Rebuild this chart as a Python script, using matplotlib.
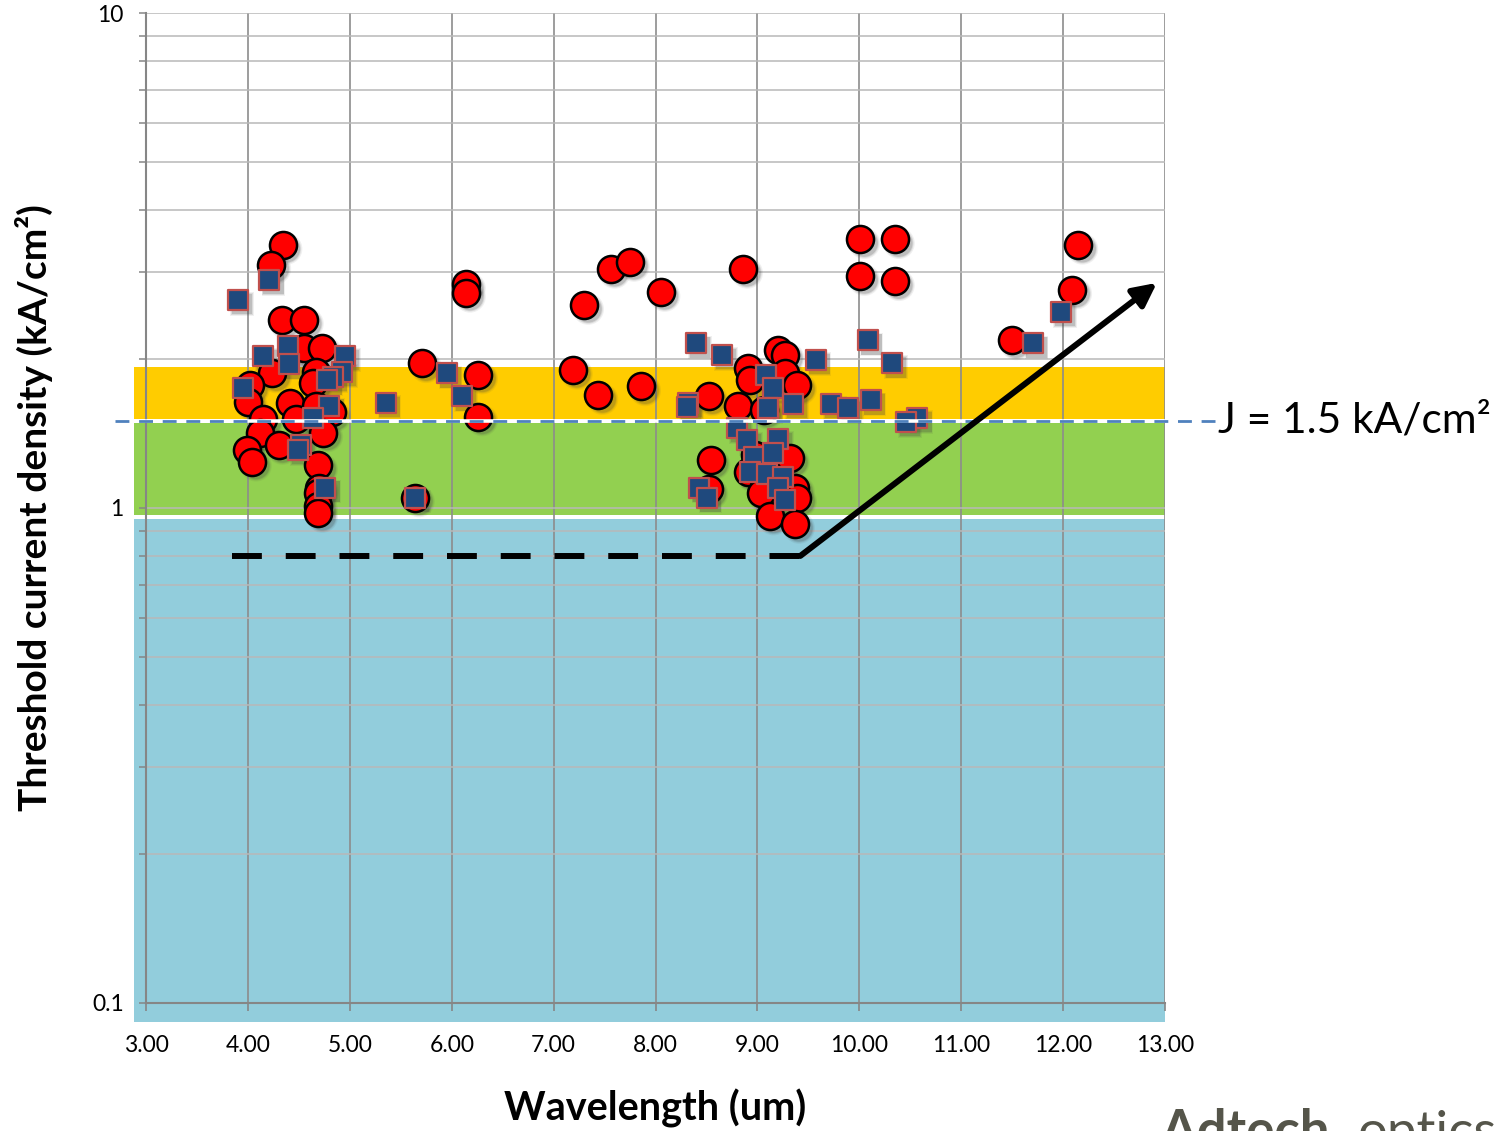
import matplotlib.pyplot as plt
from matplotlib.patches import Rectangle
from matplotlib.transforms import offset_copy
from matplotlib.ticker import FixedLocator, LogLocator, FuncFormatter, NullFormatter

plt.rcParams['font.family'] = ['Lato', 'DejaVu Sans']

# Red circles: wavelength (um) and threshold current density (kA/cm2)
circ_wl = [4.34, 4.23, 4.33, 4.55, 4.55, 4.73, 4.24, 4.67, 4.64, 4.02,
           4.00, 4.41, 4.67, 4.82, 4.15, 4.47, 4.12, 4.74, 4.30, 3.99,
           4.04, 4.69, 4.70, 4.69, 4.69, 4.69,
           5.71, 6.14, 6.14, 6.26, 6.26, 5.64, 7.30, 7.56, 7.75, 8.05,
           7.19, 7.44, 7.86,
           8.86, 9.20, 9.27, 8.91, 8.93, 9.27, 9.39, 8.52, 8.81, 9.06,
           8.54, 8.98, 9.32, 8.91, 9.05, 8.52, 9.03, 9.37, 9.39, 9.12,
           9.37,
           10.01, 10.35, 10.01, 10.35, 12.15, 12.09, 11.50]
circ_j = [3.40, 3.10, 2.40, 2.40, 2.10, 2.10, 1.87, 1.88, 1.79, 1.77,
          1.64, 1.63, 1.61, 1.56, 1.51, 1.51, 1.42, 1.42, 1.34, 1.31,
          1.24, 1.22, 1.10, 1.07, 1.01, 0.977,
          1.96, 2.83, 2.72, 1.86, 1.53, 1.05, 2.57, 3.04, 3.14, 2.73,
          1.90, 1.69, 1.76,
          3.04, 2.09, 2.04, 1.92, 1.81, 1.87, 1.77, 1.68, 1.61, 1.58,
          1.25, 1.28, 1.26, 1.18, 1.155, 1.09, 1.07, 1.10, 1.05, 0.965,
          0.928,
          3.49, 3.49, 2.94, 2.87, 3.40, 2.76, 2.18]

# Blue squares
sq_wl = [3.90, 4.21, 4.39, 4.15, 4.40, 4.95, 3.95, 4.92, 4.83, 4.78,
         4.80, 4.64, 4.52, 4.49, 4.76,
         5.35, 5.95, 6.10, 5.64,
         8.40, 8.65, 9.57, 9.08, 9.15, 8.32, 8.31, 9.10, 9.35, 9.72,
         9.89, 8.80, 8.90, 9.20, 8.97, 9.15, 8.93, 9.09, 9.25, 8.43,
         8.50, 9.20, 9.27,
         10.08, 10.32, 10.11, 10.57, 10.46, 11.70, 11.98]
sq_j = [2.63, 2.89, 2.12, 2.03, 1.95, 2.03, 1.75, 1.88, 1.84, 1.81,
        1.61, 1.52, 1.34, 1.31, 1.10,
        1.63, 1.87, 1.68, 1.05,
        2.15, 2.04, 1.99, 1.86, 1.75, 1.63, 1.60, 1.59, 1.62, 1.62,
        1.59, 1.45, 1.37, 1.38, 1.27, 1.29, 1.18, 1.17, 1.155, 1.10,
        1.05, 1.10, 1.04,
        2.18, 1.96, 1.65, 1.52, 1.49, 2.15, 2.49]

# background bands (lower, upper density) and colours
band_lo = [0.0916, 0.968, 1.515]
band_hi = [0.950, 1.485, 1.93]
band_colors = ['#92cddc', '#92d050', '#ffcc00']

j_ref = 1.5

# trend guide: flat part, then rising arrow
flat_wl = [3.84, 9.42]
flat_j = [0.80, 0.80]
rise_start = (9.42, 0.80)
rise_end = (12.92, 2.85)

x_ticks = [3, 4, 5, 6, 7, 8, 9, 10, 11, 12, 13]
y_ticks = [0.1, 1, 10]

fig = plt.figure(figsize=(14.95, 11.31), dpi=100)
ax = fig.add_axes([0.0977, 0.1132, 0.6816, 0.8753])
ax.set_yscale('log')
ax.set_xlim(3, 13)
ax.set_ylim(0.1, 10)

for lo, hi, c in zip(band_lo, band_hi, band_colors):
    ax.add_patch(Rectangle((2.88, lo), 13 - 2.88, hi - lo, facecolor=c,
                           edgecolor='none', zorder=0.2, clip_on=False))

ax.set_axisbelow(True)
ax.xaxis.set_major_locator(FixedLocator(x_ticks))
ax.xaxis.set_major_formatter(FuncFormatter(lambda v, p: f'{v:.2f}'))
ax.yaxis.set_major_locator(FixedLocator(y_ticks))
ax.yaxis.set_minor_locator(LogLocator(base=10, subs=range(2, 10)))
ax.yaxis.set_major_formatter(FuncFormatter(lambda v, p: f'{v:g}'))
ax.yaxis.set_minor_formatter(NullFormatter())
ax.grid(axis='x', which='major', color='#8c8c8c', lw=1.2)
ax.grid(axis='y', which='both', color='#b8b8b8', lw=1.1)

for s in ['top', 'right']:
    ax.spines[s].set_visible(False)
for s in ['left', 'bottom']:
    ax.spines[s].set_color('#868686')
    ax.spines[s].set_linewidth(1.5)

ax.tick_params(axis='y', which='both', direction='out', length=5, width=1.1,
               color='#868686', labelsize=16.5, pad=11)
ax.tick_params(axis='x', which='major', direction='out', length=6, width=1.2,
               color='#868686', labelsize=16.5, pad=17)

# soft drop shadows
for grow, alpha in [(1.35, 0.08), (1.15, 0.12), (1.0, 0.18)]:
    sh = offset_copy(ax.transData, fig=fig, x=4, y=-4, units='dots')
    ax.scatter(circ_wl, circ_j, s=380 * grow, color='#404040', alpha=alpha,
               edgecolors='none', transform=sh, zorder=1)
    ax.scatter(sq_wl, sq_j, s=215 * grow, marker='s', color='#404040',
               alpha=alpha, edgecolors='none', transform=sh, zorder=1)

ax.scatter(circ_wl, circ_j, s=380, color='#ff0000', edgecolors='black',
           linewidths=1.8, zorder=2)
ax.scatter(sq_wl, sq_j, s=215, marker='s', color='#1f497d',
           edgecolors='#c0504d', linewidths=1.6, zorder=3)

# reference level J = 1.5 kA/cm2
ax.plot([2.70, 13.49], [j_ref, j_ref], color='white', lw=2.6, zorder=4,
        clip_on=False)
ax.plot([2.70, 13.49], [j_ref, j_ref], color='#4f81bd', lw=2.0,
        dashes=(5, 3.5), zorder=5, clip_on=False)
ax.text(13.52, j_ref, 'J = 1.5 kA/cm\u00b2', fontsize=30.5, va='center',
        ha='left', clip_on=False)

ax.plot(flat_wl, flat_j, color='black', lw=4.3, dashes=(5, 4), zorder=6,
        solid_capstyle='butt')
ax.annotate('', xy=rise_end, xytext=rise_start,
            arrowprops=dict(arrowstyle='-|>', lw=4.3, color='black',
                            mutation_scale=35, shrinkA=0, shrinkB=0),
            zorder=6)

ax.set_xlabel('Wavelength (um)', fontsize=28.5, fontweight='bold', labelpad=24)
ax.set_ylabel('Threshold current density (kA/cm\u00b2)', fontsize=28,
              fontweight='bold', labelpad=28)

# company logo along the bottom edge
logo_base = 1 - 1148 / 1131
fig.text(1160 / 1495, logo_base, 'Adtech', fontsize=38, fontweight='bold',
         color='#55554a', va='baseline', ha='left')
fig.text(1358 / 1495, logo_base, 'optics', fontsize=38,
         color='#55554a', va='baseline', ha='left')

fig.savefig('out.png', dpi=100)
